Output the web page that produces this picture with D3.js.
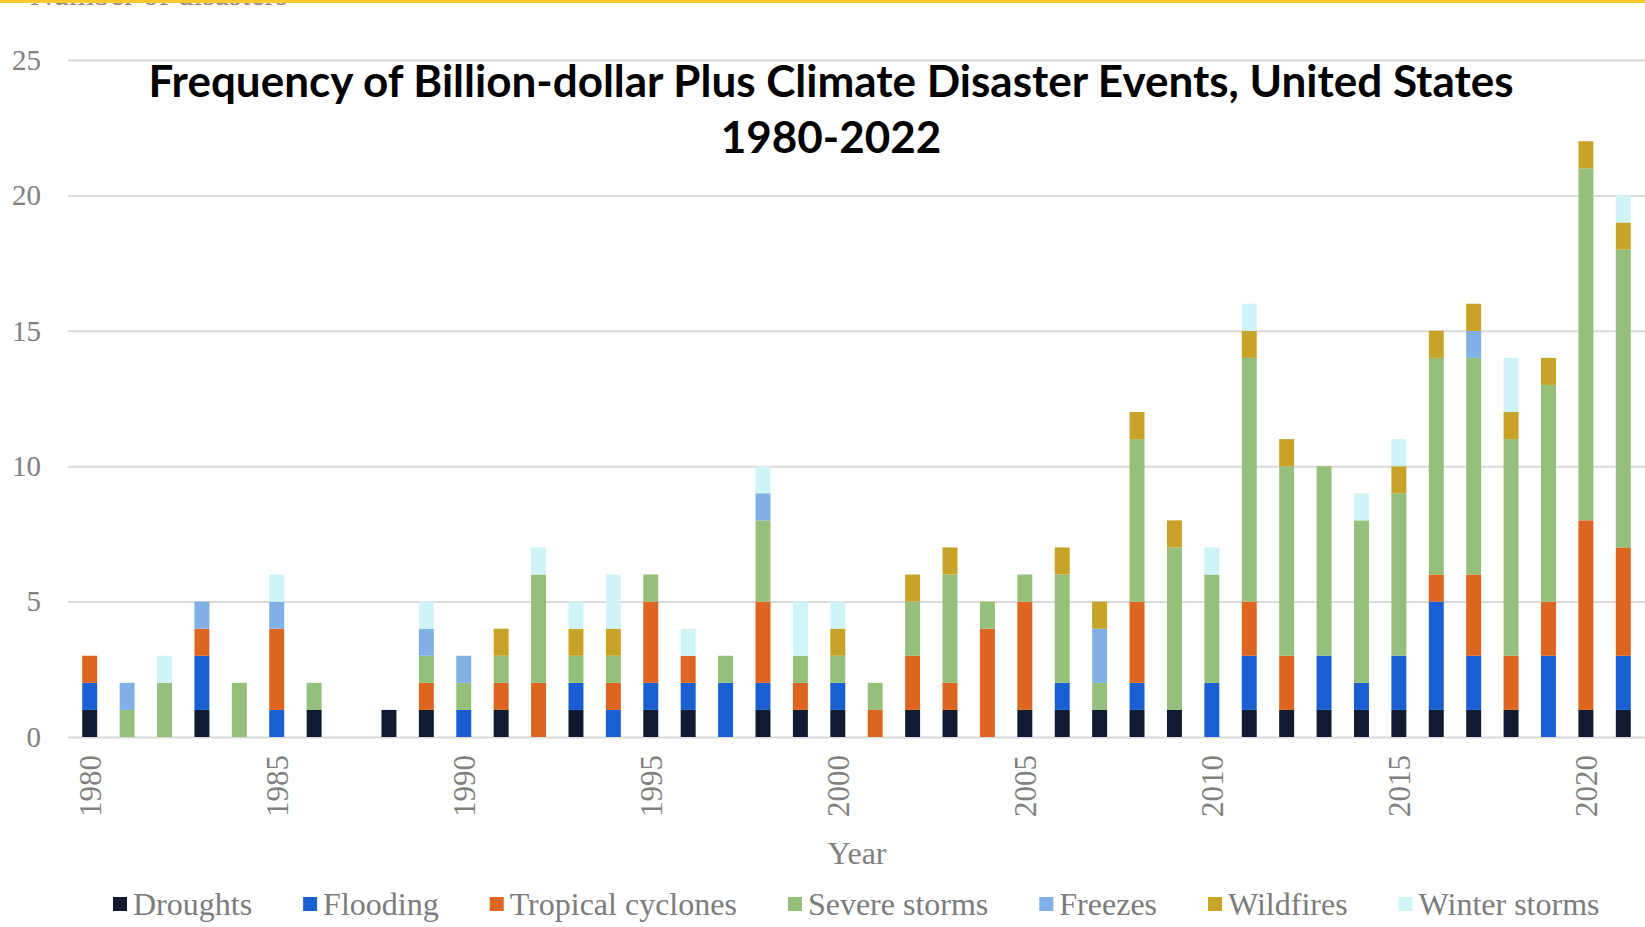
<!DOCTYPE html>
<html>
<head>
<meta charset="utf-8">
<script src="https://cdn.jsdelivr.net/npm/d3@7"></script>
<style>
  html, body { margin: 0; padding: 0; background: #ffffff; }
  svg { display: block; }
</style>
</head>
<body>
<svg id="chart" width="1645" height="927"></svg>
<script>
// Billion-dollar disaster counts per year, one array per disaster type
const years = [
  1980, 1981, 1982, 1983, 1984, 1985, 1986, 1987, 1988, 1989,
  1990, 1991, 1992, 1993, 1994, 1995, 1996, 1997, 1998, 1999,
  2000, 2001, 2002, 2003, 2004, 2005, 2006, 2007, 2008, 2009,
  2010, 2011, 2012, 2013, 2014, 2015, 2016, 2017, 2018, 2019,
  2020, 2021
];
const droughts = [
  1, 0, 0, 1, 0, 0, 1, 0, 1, 1,
  0, 1, 0, 1, 0, 1, 1, 0, 1, 1,
  1, 0, 1, 1, 0, 1, 1, 1, 1, 1,
  0, 1, 1, 1, 1, 1, 1, 1, 1, 0,
  1, 1
];
const flooding = [
  1, 0, 0, 2, 0, 1, 0, 0, 0, 0,
  1, 0, 0, 1, 1, 1, 1, 2, 1, 0,
  1, 0, 0, 0, 0, 0, 1, 0, 1, 0,
  2, 2, 0, 2, 1, 2, 4, 2, 0, 3,
  0, 2
];
const tropicalCyclones = [
  1, 0, 0, 1, 0, 3, 0, 0, 0, 1,
  0, 1, 2, 0, 1, 3, 1, 0, 3, 1,
  0, 1, 2, 1, 4, 4, 0, 0, 3, 0,
  0, 2, 2, 0, 0, 0, 1, 3, 2, 2,
  7, 4
];
const severeStorms = [
  0, 1, 2, 0, 2, 0, 1, 0, 0, 1,
  1, 1, 4, 1, 1, 1, 0, 1, 3, 1,
  1, 1, 2, 4, 1, 1, 4, 1, 6, 6,
  4, 9, 7, 7, 6, 6, 8, 8, 8, 8,
  13, 11
];
const freezes = [
  0, 1, 0, 1, 0, 1, 0, 0, 0, 1,
  1, 0, 0, 0, 0, 0, 0, 0, 1, 0,
  0, 0, 0, 0, 0, 0, 0, 2, 0, 0,
  0, 0, 0, 0, 0, 0, 0, 1, 0, 0,
  0, 0
];
const wildfires = [
  0, 0, 0, 0, 0, 0, 0, 0, 0, 0,
  0, 1, 0, 1, 1, 0, 0, 0, 0, 0,
  1, 0, 1, 1, 0, 0, 1, 1, 1, 1,
  0, 1, 1, 0, 0, 1, 1, 1, 1, 1,
  1, 1
];
const winterStorms = [
  0, 0, 1, 0, 0, 1, 0, 0, 0, 1,
  0, 0, 1, 1, 2, 0, 1, 0, 1, 2,
  1, 0, 0, 0, 0, 0, 0, 0, 0, 0,
  1, 1, 0, 0, 1, 1, 0, 0, 2, 0,
  0, 1
];
const seriesNames = ["Droughts", "Flooding", "Tropical cyclones", "Severe storms", "Freezes", "Wildfires", "Winter storms"];
const seriesColors = ["#101b31", "#1a5fd2", "#de6520", "#95c07b", "#80b0e6", "#c9a228", "#cff4f7"];
const yTicks = [0, 5, 10, 15, 20, 25];
const xTickYears = [1980, 1985, 1990, 1995, 2000, 2005, 2010, 2015, 2020];
const titleLines = ["Frequency of Billion-dollar Plus Climate Disaster Events, United States", "1980-2022"];

const seriesValues = [droughts, flooding, tropicalCyclones, severeStorms, freezes, wildfires, winterStorms];
const table = years.map((yr, i) => {
  const row = { year: yr };
  seriesNames.forEach((name, s) => { row[name] = seriesValues[s][i]; });
  return row;
});

const svg = d3.select("#chart");
const W = 1645;

const x = d3.scaleBand()
  .domain(years)
  .range([71, 1642])
  .paddingInner(0.6)
  .paddingOuter(0.3);

const y = d3.scaleLinear()
  .domain([0, 25])
  .range([737, 60]);

const color = d3.scaleOrdinal().domain(seriesNames).range(seriesColors);

// faint axis caption at the very top, partly hidden by the banner stripe
svg.append("text")
  .attr("x", 30).attr("y", 5)
  .attr("font-family", "Liberation Serif, serif")
  .attr("font-size", 32)
  .attr("fill", "#8a8a8a")
  .text("Number of disasters");

// horizontal gridlines
const grid = d3.axisLeft(y).tickValues(yTicks).tickSize(-(W - 68)).tickFormat("");
svg.append("g")
  .attr("transform", "translate(68,0)")
  .call(grid)
  .call(g => g.select(".domain").remove())
  .call(g => g.selectAll("line").attr("stroke", "#dadada").attr("stroke-width", 2));

// y tick labels
const yAxis = d3.axisLeft(y).tickValues(yTicks).tickSize(0).tickPadding(0);
svg.append("g")
  .attr("transform", "translate(41,0)")
  .call(yAxis)
  .call(g => g.select(".domain").remove())
  .call(g => g.selectAll("text")
    .attr("font-family", "Liberation Serif, serif")
    .attr("font-size", 29)
    .attr("fill", "#808080"));

// stacked bars
const stack = d3.stack().keys(seriesNames);
const layers = stack(table);
svg.append("g")
  .selectAll("g")
  .data(layers)
  .join("g")
  .attr("fill", d => color(d.key))
  .selectAll("rect")
  .data(d => d.filter(p => p[1] > p[0]))
  .join("rect")
  .attr("x", d => x(d.data.year))
  .attr("width", x.bandwidth())
  .attr("y", d => y(d[1]))
  .attr("height", d => y(d[0]) - y(d[1]));

// x tick labels, rotated
const xAxis = d3.axisBottom(x).tickValues(xTickYears).tickSize(0).tickPadding(0);
svg.append("g")
  .attr("transform", "translate(0,755)")
  .call(xAxis)
  .call(g => g.select(".domain").remove())
  .call(g => g.selectAll("text")
    .attr("font-family", "Liberation Serif, serif")
    .attr("font-size", 31)
    .attr("fill", "#808080")
    .attr("text-anchor", "end")
    .attr("transform", "rotate(-90)")
    .attr("x", 0)
    .attr("y", 0)
    .attr("dy", "0.35em"));

// x axis title
svg.append("text")
  .attr("x", 857).attr("y", 864)
  .attr("text-anchor", "middle")
  .attr("font-family", "Liberation Serif, serif")
  .attr("font-size", 32)
  .attr("fill", "#808080")
  .text("Year");

// legend
const legend = svg.append("g").attr("transform", "translate(113,904)");
let lx = 0;
seriesNames.forEach((name, i) => {
  const item = legend.append("g").attr("transform", `translate(${lx},0)`);
  item.append("rect")
    .attr("x", 0).attr("y", -7)
    .attr("width", 14).attr("height", 14)
    .attr("fill", seriesColors[i]);
  const t = item.append("text")
    .attr("x", 20).attr("y", 0)
    .attr("dy", "0.35em")
    .attr("font-family", "Liberation Serif, serif")
    .attr("font-size", 32)
    .attr("fill", "#7c7c7c")
    .text(name);
  lx += 20 + t.node().getComputedTextLength() + 51;
});

// title
const title = svg.append("text")
  .attr("text-anchor", "middle")
  .attr("font-family", "Lato, 'Open Sans', sans-serif")
  .attr("font-weight", 700)
  .attr("font-size", 44)
  .attr("fill", "#000000");
titleLines.forEach((line, i) => {
  title.append("tspan")
    .attr("x", 831)
    .attr("y", 97 + i * 56)
    .text(line);
});

// banner stripe along the top edge
svg.append("rect")
  .attr("x", 0).attr("y", 0)
  .attr("width", W).attr("height", 3)
  .attr("fill", "#fec92c");
</script>
</body>
</html>
